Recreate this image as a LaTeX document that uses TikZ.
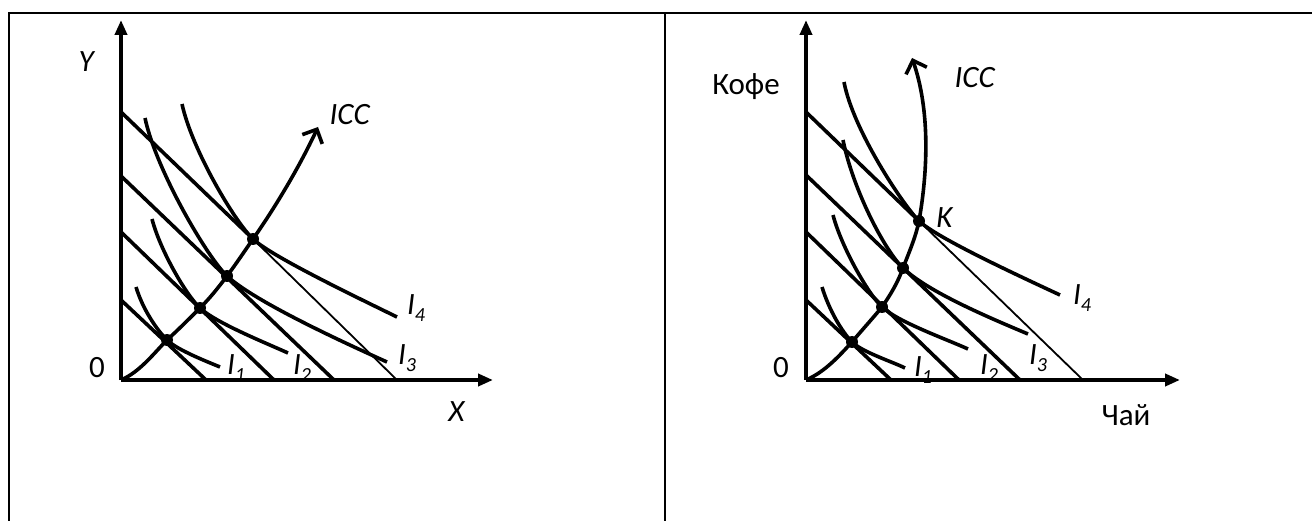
\documentclass[tikz,border=0pt]{standalone}
\usepackage{fontspec}
\setmainfont{Carlito}
\usetikzlibrary{arrows.meta}
\newcommand{\Isub}[1]{\textit{I}\raisebox{-7pt}{\fontsize{20}{20}\selectfont\textit{#1}}}
\tikzset{
  frameline/.style={line width=2pt},
  axis/.style={line width=3.8pt,-{Triangle[length=15pt,width=12pt]}},
  budget/.style={line width=3.6pt},
  thinbudget/.style={line width=1.8pt},
  indiff/.style={line width=3.6pt},
  icc/.style={line width=3.6pt,-{Straight Barb[length=11pt,width=22pt,line width=3.6pt]}},
  dotmark/.style={fill=black},
  lab/.style={inner sep=0pt,font=\fontsize{31}{36}\selectfont},
}
\begin{document}
\begin{tikzpicture}[x=1pt,y=-1pt]
\useasboundingbox (0,0) rectangle (1312,521);
% frame
\coordinate (f1) at (8.5,13);
\coordinate (f2) at (1312,13);
\coordinate (f3) at (8.5,521);
\coordinate (f4) at (665,13);
\coordinate (f5) at (665,521);
\draw[frameline] (f3) -- (f1) -- (f2);
\draw[frameline] (f4) -- (f5);

% ================= left panel =================
\coordinate (oL) at (121,380);
\coordinate (yL) at (121,20);
\coordinate (xL) at (493,380);
% budget lines
\coordinate (b1yL) at (121,300); \coordinate (b1xL) at (206,380);
\coordinate (b2yL) at (121,232); \coordinate (b2xL) at (274,380);
\coordinate (b3yL) at (121,176); \coordinate (b3xL) at (334,380);
\coordinate (b4yL) at (121,112); \coordinate (b4xL) at (397,380);
% tangency points
\coordinate (p1L) at (167,340);
\coordinate (p2L) at (200,308);
\coordinate (p3L) at (227,276);
\coordinate (p4L) at (253,239);
\coordinate (iccL) at (318,127);
\draw[budget] (b1yL) -- (b1xL);
\draw[budget] (b2yL) -- (b2xL);
\draw[budget] (b3yL) -- (b3xL);
\draw[budget] (b4yL) -- (p4L);
\draw[thinbudget] (p4L) -- (b4xL);
% indifference curves
\draw[indiff] (136,287) .. controls (143,310) and (157,330) .. (p1L)
  .. controls (177,350) and (208,362) .. (220,367);
\draw[indiff] (152,219) .. controls (160,250) and (186,295) .. (p2L)
  .. controls (216,323) and (266,343) .. (288,353);
\draw[indiff] (145,118) .. controls (156,170) and (207,257) .. (p3L)
  .. controls (255,302) and (347,344) .. (387,362);
\draw[indiff] (182,104) .. controls (192,150) and (235,222) .. (p4L)
  .. controls (271,256) and (352,295) .. (397,317);
% ICC
\draw[icc] (oL) .. controls (140,372) and (155,352) .. (p1L)
  .. controls (178,330) and (190,318) .. (p2L)
  .. controls (210,298) and (218,288) .. (p3L)
  .. controls (236,264) and (244,252) .. (p4L)
  .. controls (272,212) and (298,170) .. (iccL);
% axes
\draw[axis] (oL) -- (yL);
\draw[axis] (oL) -- (xL);
\foreach \p in {p1L,p2L,p3L,p4L} \fill[dotmark] (\p) circle (6);
% labels
\node[lab] (lY) at (87,62) {\textit{Y}};
\node[lab] (l0L) at (97,368) {0};
\node[lab] (lX) at (457,412) {\textit{X}};
\node[lab] (lICCL) at (350,115) {\textit{ICC}};
\node[lab] (lI1L) at (236,368) {\Isub{1}};
\node[lab] (lI2L) at (302,368) {\Isub{2}};
\node[lab] (lI3L) at (407,358) {\Isub{3}};
\node[lab] (lI4L) at (416,308) {\Isub{4}};

% ================= right panel =================
\coordinate (oR) at (806,380);
\coordinate (yR) at (806,20);
\coordinate (xR) at (1180,380);
\coordinate (b1yR) at (806,300); \coordinate (b1xR) at (891,380);
\coordinate (b2yR) at (806,232); \coordinate (b2xR) at (959,380);
\coordinate (b3yR) at (806,175); \coordinate (b3xR) at (1020,380);
\coordinate (b4yR) at (806,112); \coordinate (b4xR) at (1083,380);
\coordinate (p1R) at (852,342);
\coordinate (p2R) at (882,307);
\coordinate (p3R) at (903,268);
\coordinate (kR) at (919,221);
\coordinate (iccR) at (912,58);
\draw[budget] (b1yR) -- (b1xR);
\draw[budget] (b2yR) -- (b2xR);
\draw[budget] (b3yR) -- (b3xR);
\draw[budget] (b4yR) -- (kR);
\draw[thinbudget] (kR) -- (b4xR);
\draw[indiff] (822,287) .. controls (829,310) and (842,332) .. (p1R)
  .. controls (862,352) and (893,362) .. (905,368);
\draw[indiff] (833,215) .. controls (841,246) and (868,294) .. (p2R)
  .. controls (898,322) and (946,339) .. (968,349);
\draw[indiff] (843,140) .. controls (853,190) and (885,251) .. (p3R)
  .. controls (928,292) and (990,318) .. (1028,334);
\draw[indiff] (844,82) .. controls (853,130) and (903,205) .. (kR)
  .. controls (937,238) and (1017,275) .. (1060,295);
\draw[icc] (oR) .. controls (825,372) and (840,355) .. (p1R)
  .. controls (862,330) and (873,318) .. (p2R)
  .. controls (891,294) and (898,282) .. (p3R)
  .. controls (910,250) and (916,236) .. (kR)
  .. controls (928,170) and (930,110) .. (iccR);
\draw[axis] (oR) -- (yR);
\draw[axis] (oR) -- (xR);
\foreach \p in {p1R,p2R,p3R,kR} \fill[dotmark] (\p) circle (6);
\node[lab] (lKofe) at (746,87) {Кофе};
\node[lab] (l0R) at (781,368) {0};
\node[lab] (lChai) at (1126,415) {Чай};
\node[lab] (lICCR) at (975,78) {\textit{ICC}};
\node[lab] (lK) at (945,218) {\textit{K}};
\node[lab] (lI1R) at (923,370) {\Isub{1}};
\node[lab] (lI2R) at (989,368) {\Isub{2}};
\node[lab] (lI3R) at (1038,358) {\Isub{3}};
\node[lab] (lI4R) at (1082,298) {\Isub{4}};
\end{tikzpicture}
\end{document}
